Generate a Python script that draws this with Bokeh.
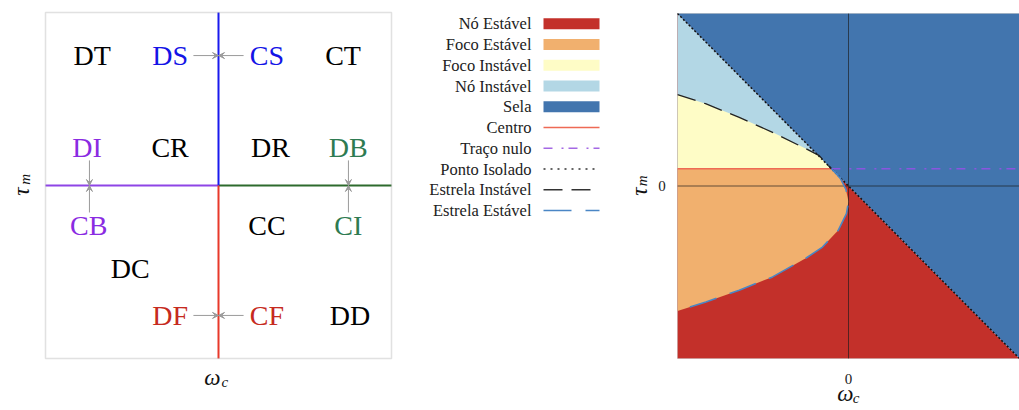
from bokeh.plotting import figure
from bokeh.models import Range1d, ColumnDataSource, Arrow, VeeHead, BoxAnnotation
from bokeh.layouts import row
from bokeh.embed import file_html
from bokeh.resources import INLINE
from bokeh.core.properties import value

SERIF = "Liberation Serif"

# ---------------- data: left schematic ----------------
region_labels = ["DT", "DS", "CS", "CT", "DI", "CR", "DR", "DB", "CB", "CC", "CI", "DC", "DF", "CF", "DD"]
region_x = [-0.73, -0.28, 0.28, 0.72, -0.76, -0.28, 0.30, 0.75, -0.75, 0.28, 0.75, -0.51, -0.28, 0.28, 0.76]
region_y = [0.75, 0.75, 0.75, 0.75, 0.22, 0.22, 0.22, 0.22, -0.23, -0.23, -0.23, -0.48, -0.75, -0.75, -0.75]
BLK, BLU, PUR, GRN, RED = "#000000", "#1414e6", "#8a2be2", "#2e7b52", "#c62a20"
region_colors = [BLK, BLU, BLU, BLK, PUR, BLK, BLK, GRN, PUR, BLK, GRN, BLK, RED, RED, BLK]

# boundary half-axes (left, right, up, down)
bound_x0 = [-1.0, 0.0, 0.0, 0.0]
bound_x1 = [0.0, 1.0, 0.0, 0.0]
bound_y0 = [0.0, 0.0, 0.0, -1.0]
bound_y1 = [0.0, 0.0, 1.0, 0.0]
bound_colors = ["#8e45e6", "#2d6a2d", "#1a1aee", "#e8392a"]

# transition arrows
arrow_x0 = [-0.145, 0.145, -0.145, 0.145, -0.746, -0.746, 0.751, 0.751]
arrow_y0 = [0.751, 0.751, -0.751, -0.751, 0.145, -0.156, 0.145, -0.156]
arrow_x1 = [0.0, 0.0, 0.0, 0.0, -0.746, -0.746, 0.751, 0.751]
arrow_y1 = [0.751, 0.751, -0.751, -0.751, 0.0, 0.0, 0.0, 0.0]

# ---------------- data: right phase diagram ----------------
diag_x = [-1.0, 1.0]
diag_y = [1.0, -1.0]
centro_y = 0.1
tangent_x = -0.1
upper_x = [-1.0, -0.836, -0.639, -0.444, -0.251, -0.171, -0.1]
upper_y = [0.53, 0.477, 0.398, 0.311, 0.217, 0.176, 0.1]
lower_x = [-0.1, -0.07, -0.045, -0.015, 0.0, -0.012, -0.06, -0.152, -0.25, -0.444, -0.639, -0.834, -1.0]
lower_y = [0.1, 0.07, 0.04, -0.02, -0.09, -0.16, -0.257, -0.354, -0.419, -0.527, -0.604, -0.672, -0.725]
tick_values = [0]
tick_labels = ["0"]

C_NO_EST = "#c3302a"
C_FOCO_EST = "#f1b06e"
C_FOCO_INST = "#fefcc6"
C_NO_INST = "#b3d7e5"
C_SELA = "#4275ae"
C_CENTRO = "#ee6a55"
C_TRACO = "#a468e4"
C_PONTO = "#333333"
C_EST_INST = "#333333"
C_EST_EST = "#4a86c5"

legend_names = ["Nó Estável", "Foco Estável", "Foco Instável", "Nó Instável", "Sela",
                "Centro", "Traço nulo", "Ponto Isolado", "Estrela Instável", "Estrela Estável"]
legend_colors = [C_NO_EST, C_FOCO_EST, C_FOCO_INST, C_NO_INST, C_SELA,
                 C_CENTRO, C_TRACO, C_PONTO, C_EST_INST, C_EST_EST]
legend_kind = ["patch"] * 5 + ["line"] * 5
legend_dash = [None] * 5 + ["solid", "9 9 2 5", "2 5", "19 9", "28 14"]

H = 408


def boxed_figure(width, pad_l, pad_t, box_w, box_h):
    """Figure whose frame fills the canvas; the [-1,1]x[-1,1] box sits at the given pixel padding."""
    sx = box_w / 2.0
    sy = box_h / 2.0
    x0 = -1 - pad_l / sx
    y1 = 1 + pad_t / sy
    p = figure(width=width, height=H,
               x_range=Range1d(x0, x0 + width / sx), y_range=Range1d(y1 - H / sy, y1),
               output_backend="svg", toolbar_location=None,
               x_axis_location=None, y_axis_location=None,
               min_border_left=0, min_border_right=0, min_border_top=0, min_border_bottom=0)
    p.grid.visible = False
    p.outline_line_color = None
    return p


def axis_title(p, main, sub, mx, my, sx, sy, angle=0.0):
    p.text(x=[mx], y=[my], text=[main], text_font=value(SERIF), text_font_style="italic",
           text_font_size="23px", text_align="center", text_baseline="middle",
           angle=angle, text_color="#111111")
    p.text(x=[sx], y=[sy], text=[sub], text_font=value(SERIF), text_font_style="italic",
           text_font_size="15px", text_align="center", text_baseline="middle",
           angle=angle, text_color="#111111")


# ================= left figure =================
p1 = boxed_figure(420, 45, 12, 346, 346)
p1.add_layout(BoxAnnotation(left=-1, right=1, bottom=-1, top=1, fill_color=None,
                            line_color="#9a9a9a", line_width=1.5))

p1.segment(x0=bound_x0, y0=bound_y0, x1=bound_x1, y1=bound_y1, line_color=bound_colors, line_width=2)

asrc = ColumnDataSource(dict(x0=arrow_x0, y0=arrow_y0, x1=arrow_x1, y1=arrow_y1))
p1.add_layout(Arrow(end=VeeHead(size=6, fill_color="#9a9a9a", line_color="#9a9a9a", line_width=1),
                    x_start="x0", y_start="y0", x_end="x1", y_end="y1", source=asrc,
                    line_color="#9a9a9a", line_width=1))

p1.text(x=region_x, y=region_y, text=region_labels, text_color=region_colors,
        text_font=value(SERIF), text_font_size="28px", text_align="center", text_baseline="middle")

axis_title(p1, "ω", "c", -0.035, -1.11, 0.036, -1.135)
axis_title(p1, "τ", "m", -1.139, -0.035, -1.121, 0.035, angle=1.5708)

# ================= legend figure =================
leg = figure(width=190, height=H, x_range=Range1d(0, 190), y_range=Range1d(H, 0),
             output_backend="svg", toolbar_location=None,
             x_axis_location=None, y_axis_location=None,
             min_border_left=0, min_border_right=0, min_border_top=0, min_border_bottom=0)
leg.grid.visible = False
leg.outline_line_color = None
row_y = [23.3 + 20.75 * i for i in range(len(legend_names))]
leg.text(x=[111] * len(legend_names), y=row_y, text=legend_names, text_color="#222222",
         text_font=value(SERIF), text_font_size="16.5px", text_align="right", text_baseline="middle")
for name, col, kind, dash, yy in zip(legend_names, legend_colors, legend_kind, legend_dash, row_y):
    if kind == "patch":
        leg.quad(left=[123], right=[179], top=[yy - 5.5], bottom=[yy + 5.5], fill_color=col, line_color=None)
    else:
        leg.line(x=[123, 179], y=[yy, yy], line_color=col, line_width=1.6, line_dash=dash)

# ================= right figure =================
p2 = boxed_figure(409, 67, 13, 342, 345)

# stability regions
p2.patch(x=[diag_x[0], diag_x[1], diag_x[0]], y=[diag_y[1], diag_y[1], diag_y[0]],
         fill_color=C_NO_EST, line_color=None)
p2.patch(x=[diag_x[0], diag_x[0], tangent_x], y=[diag_y[0], centro_y, centro_y],
         fill_color=C_NO_INST, line_color=None)
p2.patch(x=upper_x + [upper_x[0]], y=upper_y + [centro_y], fill_color=C_FOCO_INST, line_color=None)
p2.patch(x=lower_x + [lower_x[-1]], y=lower_y + [centro_y], fill_color=C_FOCO_EST, line_color=None)
p2.patch(x=[diag_x[0], diag_x[1], diag_x[1]], y=[diag_y[0], diag_y[0], diag_y[1]],
         fill_color=C_SELA, line_color=None)

# zero axes inside the box
p2.segment(x0=[0, -1], y0=[-1, 0], x1=[0, 1], y1=[1, 0], line_color="#1a1a1a", line_alpha=0.65, line_width=1)

# boundaries
p2.line(x=[upper_x[0], tangent_x], y=[centro_y, centro_y], line_color=C_CENTRO, line_width=1.5)
p2.line(x=[tangent_x, 1.0], y=[centro_y, centro_y], line_color="#8b55e0", line_width=1.5, line_dash="9 9 2 5")
p2.line(x=diag_x, y=diag_y, line_color="#111111", line_width=1.5, line_dash="2 2")
p2.line(x=upper_x, y=upper_y, line_color="#222222", line_width=1.3, line_dash="19 9")
p2.line(x=lower_x, y=lower_y, line_color=C_EST_EST, line_width=1.6, line_dash="28 14")

p2.add_layout(BoxAnnotation(left=-1, right=1, bottom=-1, top=1, fill_color=None,
                            line_color="#9a9a9a", line_width=1))

# tick labels
p2.text(x=tick_values, y=[-1.116] * len(tick_values), text=tick_labels, text_font=value(SERIF),
        text_font_size="15px", text_color="#222222", text_align="center", text_baseline="middle")
p2.text(x=[-1.09] * len(tick_values), y=tick_values, text=tick_labels, text_font=value(SERIF),
        text_font_size="15px", text_color="#222222", text_align="center", text_baseline="middle")

axis_title(p2, "ω", "c", -0.018, -1.2, 0.045, -1.228)
axis_title(p2, "τ", "m", -1.222, -0.032, -1.205, 0.03, angle=1.5708)

layout = row(p1, leg, p2)
open("out.html", "w").write(file_html(layout, INLINE))
